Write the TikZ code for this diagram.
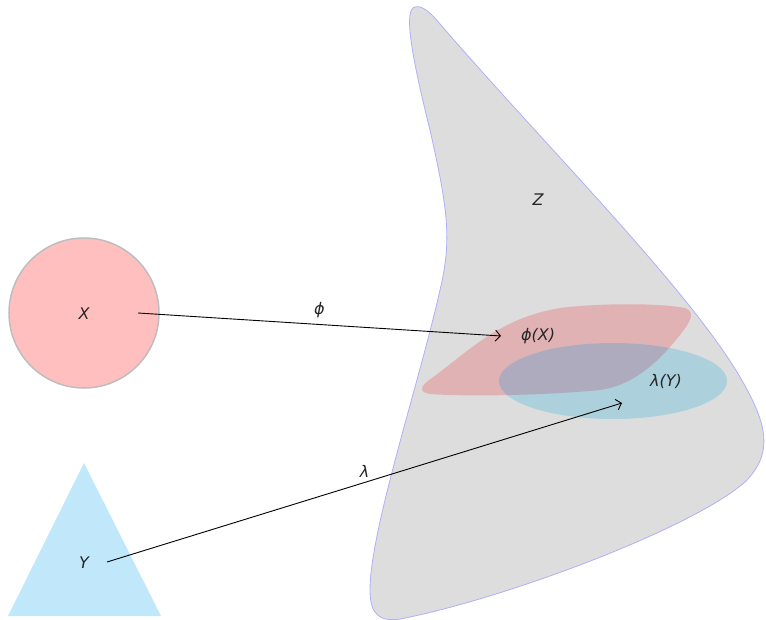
\documentclass[tikz,border=0pt]{standalone}
\usepackage{fontspec}
\setmainfont{DejaVu Sans}
\usetikzlibrary{arrows.meta}
\begin{document}
\begin{tikzpicture}[x=1pt,y=-1pt,
  lbl/.style={font=\fontsize{16}{19}\selectfont\itshape, inner sep=0pt, text=black!85},
  conn/.style={draw=black, line width=0.9pt, -{Straight Barb[length=5pt,width=11pt]}}]
\definecolor{zgray}{RGB}{221,221,221}
\definecolor{zedge}{RGB}{175,175,250}
\definecolor{xpink}{RGB}{255,191,191}
\definecolor{xedge}{RGB}{190,190,190}
\definecolor{ytri}{RGB}{192,232,250}
\definecolor{phired}{RGB}{224,178,180}
\definecolor{lamblue}{RGB}{172,208,220}
\definecolor{overlap}{RGB}{173,171,189}
\useasboundingbox (0,0) rectangle (766,620);
% Z region
\path[fill=zgray, draw=zedge, line width=0.8pt]
  (415,7) .. controls (404,9) and (410,50) .. (430,130)
  .. controls (448,210) and (452,240) .. (440,290)
  .. controls (420,380) and (370,530) .. (370,590)
  .. controls (370,615) and (380,622) .. (400,619)
  .. controls (500,600) and (690,530) .. (745,482)
  .. controls (775,452) and (767,422) .. (737,372)
  .. controls (682,282) and (540,140) .. (440,24)
  .. controls (430,12) and (422,5) .. (415,7) -- cycle;
% phi(X)
\def\redblob{(430,394) .. controls (418,392) and (420,386) .. (432,378)
  .. controls (470,350) and (500,318) .. (560,308)
  .. controls (600,303) and (660,303) .. (685,308)
  .. controls (695,312) and (692,320) .. (680,335)
  .. controls (660,360) and (635,385) .. (600,390)
  .. controls (550,395) and (470,397) .. (430,394) -- cycle}
\fill[phired] \redblob;
% lambda(Y)
\fill[lamblue] (613,381) ellipse [x radius=114, y radius=38];
\begin{scope}
  \clip \redblob;
  \fill[overlap] (613,381) ellipse [x radius=114, y radius=38];
\end{scope}
% X and Y
\node[circle, fill=xpink, draw=xedge, line width=1.5pt, minimum size=150pt, inner sep=0pt] (X) at (84,313) {};
\fill[ytri] (84,463) -- (161,616) -- (8,616) -- cycle;
\node[lbl] (xl) at (84,314) {X};
\node[lbl] (yl) at (84,563) {Y};
\node[lbl] (zl) at (538,200) {Z};
\node[lbl] (phil) at (538,336) {ϕ(X)};
\node[lbl] (laml) at (666,381) {λ(Y)};
\coordinate (a1) at (138,313);
\coordinate (a2) at (501,336);
\coordinate (b1) at (107,562);
\coordinate (b2) at (622,403);
\draw[conn] (a1) -- (a2) node[lbl, pos=0.5, above=6pt] (phil2) {ϕ};
\draw[conn] (b1) -- (b2) node[lbl, pos=0.5, above=5pt] (laml2) {λ};
\end{tikzpicture}
\end{document}
